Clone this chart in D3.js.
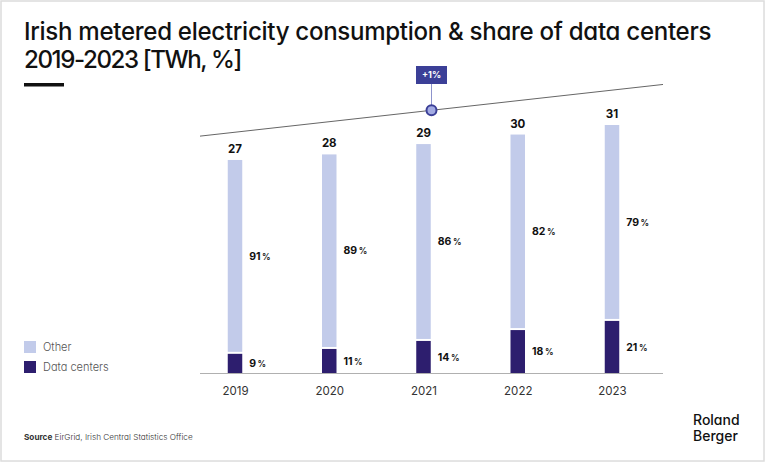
<!DOCTYPE html>
<html>
<head>
<meta charset="utf-8">
<script src="https://cdn.jsdelivr.net/npm/d3@7"></script>
<style>
  html, body { margin: 0; padding: 0; background: #fff; }
  svg { display: block; font-family: Inter, "Open Sans", sans-serif; font-feature-settings: "cv11"; }
</style>
</head>
<body>
<svg id="chart" width="768" height="464"></svg>
<script>
// ---- data ----
const years = ["2019", "2020", "2021", "2022", "2023"];
const totals = [26.8, 27.5, 28.8, 30.0, 31.2];           // TWh (labels rounded)
const dataCenterShare = [9, 11, 14, 18, 21];              // %
const otherShare = [91, 89, 86, 82, 79];                  // %
const seriesNames = ["Other", "Data centers"];
const trendLabel = "+1%";
const trendValues = [29.8, 36.3];                          // TWh, trend line ends
const titleLines = ["Irish metered electricity consumption & share of data centers", "2019-2023 [TWh, %]"];

// ---- styles ----
const cOther = "#c2cbea", cDC = "#2d1e6e", cAccent = "#3b3f97";

const svg = d3.select("#chart");
svg.append("rect").attr("x", 1).attr("y", 1).attr("width", 763).attr("height", 460)
  .attr("fill", "#fff").attr("stroke", "#dcdcdc").attr("stroke-width", 1.5);

// title
const title = svg.append("g");
titleLines.forEach((t, i) => {
  title.append("text").attr("x", 24).attr("y", 40 + i * 27.5)
    .attr("font-size", 21).attr("font-weight", 550).attr("fill", "#111")
    .attr("letter-spacing", -0.3).text(t);
});
// fit lines to reference widths
const tNodes = title.selectAll("text").nodes();
const w0 = tNodes[0].getComputedTextLength();
const fs = 21 * 685 / w0;
title.selectAll("text").attr("font-size", fs);
const w1 = tNodes[1].getComputedTextLength();
const ls1 = -0.3 + (217 - w1) / titleLines[1].length;
d3.select(tNodes[1]).attr("letter-spacing", ls1);
svg.append("rect").attr("x", 24).attr("y", 83).attr("width", 40).attr("height", 3.5).attr("fill", "#111");

// scales
const x = d3.scalePoint().domain(years).range([235, 612]);
const y = d3.scaleLinear().domain([0, 31.2]).range([373, 125]);
const barW = 14.5;
const axisX0 = 200, axisX1 = 663;

const rows = years.map((yr, i) => ({ yr, total: totals[i], dc: dataCenterShare[i], other: otherShare[i] }));

// bars
const g = svg.append("g");
g.selectAll(".other").data(rows).join("rect")
  .attr("x", d => x(d.yr) - barW / 2).attr("width", barW)
  .attr("y", d => y(d.total))
  .attr("height", d => y(d.total * d.dc / 100) - 2 - y(d.total))
  .attr("fill", cOther);
g.selectAll(".dc").data(rows).join("rect")
  .attr("x", d => x(d.yr) - barW / 2).attr("width", barW)
  .attr("y", d => y(d.total * d.dc / 100))
  .attr("height", d => y(0) - y(d.total * d.dc / 100))
  .attr("fill", cDC);

// axis
const axis = svg.append("g").attr("transform", `translate(0,${y(0)})`)
  .call(d3.axisBottom(x).tickSize(0).tickPadding(14));
axis.select(".domain").remove();
axis.selectAll("text").attr("font-size", 11.5).attr("fill", "#333").attr("font-family", "Inter, sans-serif");
svg.append("line").attr("x1", axisX0).attr("x2", axisX1).attr("y1", y(0) + 0.5).attr("y2", y(0) + 0.5)
  .attr("stroke", "#b0b0b0").attr("stroke-width", 1);

// total labels
g.selectAll(".tot").data(rows).join("text")
  .attr("x", d => x(d.yr)).attr("y", d => y(d.total) - 7)
  .attr("text-anchor", "middle").attr("font-size", 11.5).attr("font-weight", 700).attr("fill", "#111")
  .text(d => Math.round(d.total));

// percentage labels
function pct(sel, val, yPos) {
  sel.attr("x", d => x(d.yr) + barW / 2 + 7).attr("y", yPos).attr("dy", "0.35em")
    .attr("font-size", 10.5).attr("font-weight", 700).attr("fill", "#111")
    .each(function (d) {
      const t = d3.select(this);
      t.append("tspan").text(val(d));
      t.append("tspan").attr("dx", 1.5).attr("font-size", 8.5).attr("font-weight", 600).text("%");
    });
}
g.selectAll(".po").data(rows).join("text")
  .call(pct, d => d.other, d => (y(d.total) + y(d.total * d.dc / 100) - 2) / 2);
g.selectAll(".pd").data(rows).join("text")
  .call(pct, d => d.dc, d => (y(0) + y(d.total * d.dc / 100)) / 2);

// trend line annotation
const ty0 = y(trendValues[0]), ty1 = y(trendValues[1]);
svg.append("line").attr("x1", axisX0).attr("y1", ty0).attr("x2", axisX1).attr("y2", ty1)
  .attr("stroke", "#666").attr("stroke-width", 1);
const mx = (axisX0 + axisX1) / 2, my = (ty0 + ty1) / 2;
svg.append("line").attr("x1", mx).attr("x2", mx).attr("y1", 84).attr("y2", my - 5)
  .attr("stroke", "#8d93cc").attr("stroke-width", 1);
svg.append("rect").attr("x", mx - 15.5).attr("y", 66).attr("width", 31).attr("height", 18).attr("fill", cAccent);
svg.append("text").attr("x", mx).attr("y", 75).attr("dy", "0.35em").attr("text-anchor", "middle")
  .attr("font-size", 9).attr("font-weight", 700).attr("fill", "#fff").text(trendLabel);
svg.append("circle").attr("cx", mx).attr("cy", my).attr("r", 5)
  .attr("fill", "#a3abe3").attr("stroke", cAccent).attr("stroke-width", 2);

// legend
const legCols = [cOther, cDC];
const leg = svg.append("g");
seriesNames.forEach((n, i) => {
  leg.append("rect").attr("x", 24).attr("y", 341 + i * 20).attr("width", 12).attr("height", 12).attr("fill", legCols[i]);
  leg.append("text").attr("x", 43).attr("y", 347 + i * 20).attr("dy", "0.35em")
    .attr("font-size", 11).attr("fill", "#555").attr("font-weight", 300).text(n);
});

// source
const src = svg.append("text").attr("x", 24).attr("y", 437).attr("dy", "0.35em")
  .attr("font-size", 8.2).attr("fill", "#333");
src.append("tspan").attr("font-weight", 700).text("Source");
src.append("tspan").attr("font-weight", 300).text(" EirGrid, Irish Central Statistics Office");

// logo
const logo = svg.append("g").attr("font-size", 14).attr("font-weight", 500).attr("fill", "#111");
logo.append("text").attr("x", 693).attr("y", 425).text("Roland");
logo.append("text").attr("x", 693).attr("y", 441).text("Berger");
</script>
</body>
</html>
